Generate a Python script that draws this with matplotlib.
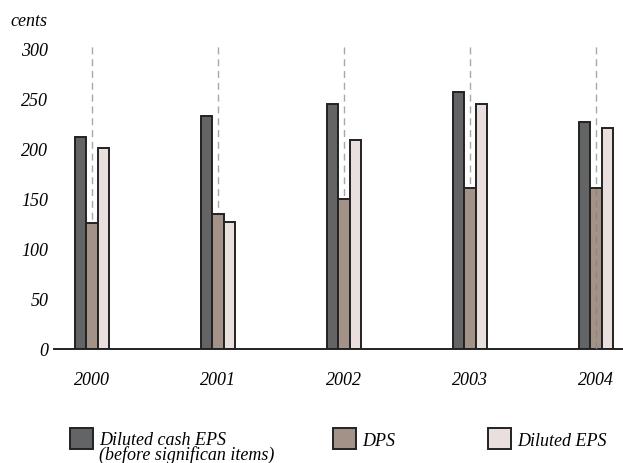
import numpy as np
import matplotlib.pyplot as plt

years = ['2000', '2001', '2002', '2003', '2004']
cash_eps = [212, 233, 245, 257, 227]   # Diluted cash EPS (before significant items)
dps = [126, 135, 150, 161, 161]        # DPS
diluted_eps = [201, 127, 209, 245, 221]  # Diluted EPS
yticks = [0, 50, 100, 150, 200, 250, 300]

labels = ['Diluted cash EPS\n(before significan items)', 'DPS', 'Diluted EPS']
colors = ['#626466', '#a39288', '#e9e0dd']

plt.rcParams['font.family'] = ['Liberation Serif', 'DejaVu Serif']
plt.rcParams['font.style'] = 'italic'

fig = plt.figure(figsize=(6.23, 4.64), dpi=100)
ax = fig.add_axes([54 / 623, 1 - 350 / 464, 1 - 54 / 623, (350 - 47) / 464])

x = np.arange(len(years))
w = 0.092
ax.vlines(x, 0, 303, colors='#a8a8a8', linestyles=(0, (5, 3.5)), linewidth=1, zorder=1)
bars = []
for i, (vals, c) in enumerate(zip([cash_eps, dps, diluted_eps], colors)):
    b = ax.bar(x + (i - 1) * w, vals, width=w, color=c, edgecolor='#222222',
               linewidth=1.4, zorder=2)
    bars.append(b)
# in the original the last guide line shows faintly through the DPS bar
ax.vlines(x[-1], 0, dps[-1], colors='#8f8580', linestyles=(0, (5, 3.5)), linewidth=1, zorder=3)

ax.set_xlim(-0.3016, 4.214)
ax.set_ylim(0, 303)
ax.set_yticks(yticks)
ax.set_xticks(x)
ax.set_xticklabels(years)
ax.tick_params(axis='both', length=0, labelsize=13)
ax.tick_params(axis='y', pad=4)
ax.tick_params(axis='x', pad=15.5)
for s in ['top', 'right', 'left']:
    ax.spines[s].set_visible(False)
ax.spines['bottom'].set_linewidth(1.4)
ax.spines['bottom'].set_color('#222222')

fig.text(10 / 623, 1 - 26 / 464, 'cents', fontsize=13, style='italic')

# legend: boxes via fig.legend, labels as text so the two-line one can sit tight
spots = [70, 333, 488]
for b, lab, px in zip(bars, labels, spots):
    fig.legend([b], [''], loc='upper left', bbox_to_anchor=(px / 623, 1 - 429 / 464),
               frameon=False, fontsize=13, borderpad=0, borderaxespad=0,
               handlelength=1.25, handleheight=1.45, handletextpad=0, labelspacing=0)
    base = 446 + 14 * lab.count('\n')  # va='baseline' pins the last line
    fig.text((px + 29) / 623, 1 - base / 464, lab, fontsize=13, style='italic',
             va='baseline', linespacing=0.8)

fig.savefig('out.png', dpi=100)
